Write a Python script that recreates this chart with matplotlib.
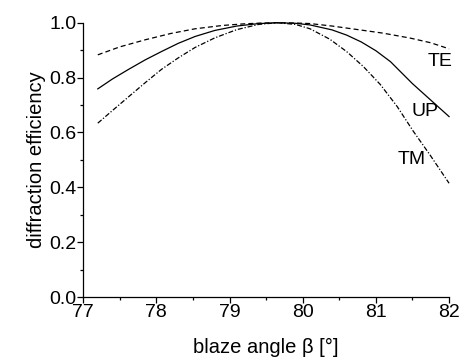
import numpy as np
import matplotlib.pyplot as plt

plt.rcParams['font.family'] = ['Liberation Sans', 'DejaVu Sans']

# blaze angle (deg) and diffraction efficiency
te_x = [77.2, 77.5, 77.85, 78.2, 78.53, 78.9, 79.2, 79.45, 79.65, 79.9, 80.1, 80.4, 80.78, 81.1, 81.47, 81.75, 82.0]
te_y = [0.883, 0.912, 0.938, 0.961, 0.978, 0.99, 0.996, 0.999, 1.0, 0.999, 0.997, 0.988, 0.974, 0.962, 0.944, 0.927, 0.905]

up_x = [77.2, 77.4, 77.62, 77.85, 78.07, 78.3, 78.53, 78.8, 79.1, 79.4, 79.65, 79.9, 80.1, 80.4, 80.6, 80.8, 81.0, 81.2, 81.5, 81.75, 82.0]
up_y = [0.759, 0.795, 0.83, 0.865, 0.895, 0.925, 0.95, 0.972, 0.988, 0.997, 1.0, 0.998, 0.992, 0.974, 0.955, 0.93, 0.898, 0.858, 0.778, 0.718, 0.658]

tm_x = [77.2, 77.4, 77.62, 77.85, 78.07, 78.3, 78.53, 78.8, 79.1, 79.4, 79.65, 79.9, 80.1, 80.37, 80.6, 80.83, 81.06, 81.29, 81.51, 81.74, 82.0]
tm_y = [0.634, 0.68, 0.73, 0.782, 0.83, 0.872, 0.91, 0.945, 0.975, 0.994, 1.0, 0.994, 0.978, 0.94, 0.895, 0.84, 0.775, 0.695, 0.605, 0.518, 0.415]

labels = ['TE', 'UP', 'TM']
label_x = [81.88, 81.67, 81.49]
label_y = [0.859, 0.676, 0.50]

fig = plt.figure(figsize=(4.62, 3.61), dpi=100)
ax = fig.add_axes([0.18, 0.177, 0.792, 0.760])

ax.plot(te_x, te_y, color='black', lw=0.9, dashes=(4, 2.5), clip_on=False)
ax.plot(up_x, up_y, color='black', lw=0.9, clip_on=False)
ax.plot(tm_x, tm_y, color='black', lw=0.9, dashes=(4, 1.5, 1, 1.5), clip_on=False)

for t, x, y in zip(labels, label_x, label_y):
    ax.text(x, y, t, fontsize=14, ha='center', va='center')

ax.set_xlim(77, 82)
ax.set_ylim(0, 1.0)
ax.set_xticks([77, 78, 79, 80, 81, 82])
ax.set_xticks(np.arange(77.5, 82, 1), minor=True)
ax.set_yticks([0.0, 0.2, 0.4, 0.6, 0.8, 1.0])
ax.set_yticks([0.1, 0.3, 0.5, 0.7, 0.9], minor=True)
ax.set_yticklabels(['0.0', '0.2', '0.4', '0.6', '0.8', '1.0'])

for s in ['top', 'right']:
    ax.spines[s].set_visible(False)
for s in ['left', 'bottom']:
    ax.spines[s].set_linewidth(0.9)

ax.tick_params(which='major', direction='out', length=4, width=0.9, labelsize=14, pad=1)
ax.tick_params(which='minor', direction='out', length=2.5, width=0.9)

ax.set_xlabel('blaze angle β [°]', fontsize=14.5, labelpad=12)
ax.set_ylabel('diffraction efficiency', fontsize=14.5, labelpad=2)

fig.savefig('out.png', dpi=100)
